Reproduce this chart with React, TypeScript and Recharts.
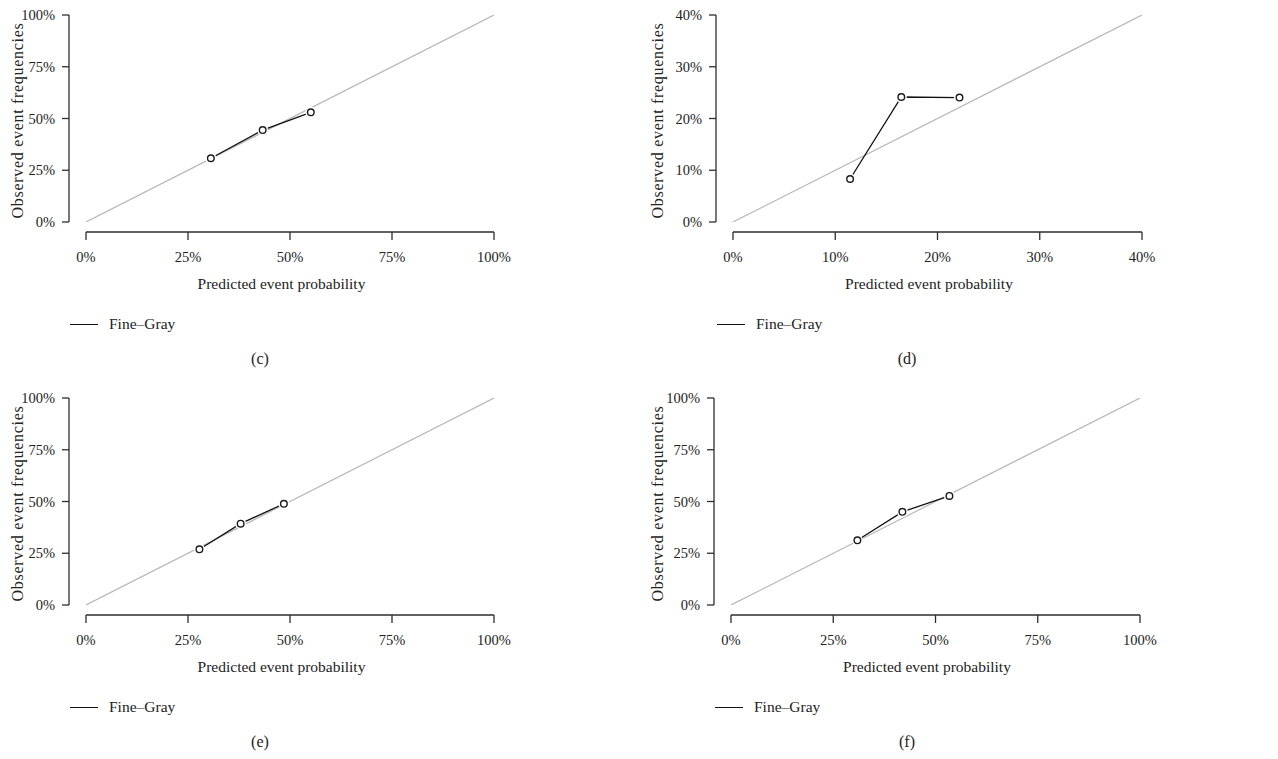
import { ComposedChart, Line, XAxis, YAxis, Legend, Label } from "recharts";

const seriesName = "Fine–Gray";
const xTitle = "Predicted event probability";
const yTitle = "Observed event frequencies";

const fullTicks = [0, 0.25, 0.5, 0.75, 1];
const smallTicks = [0, 0.1, 0.2, 0.3, 0.4];

const cPredicted = [0.306, 0.433, 0.551];
const cObserved = [0.308, 0.444, 0.53];
const dPredicted = [0.1145, 0.1646, 0.2215];
const dObserved = [0.0831, 0.2415, 0.2405];
const ePredicted = [0.278, 0.379, 0.485];
const eObserved = [0.269, 0.393, 0.489];
const fPredicted = [0.309, 0.419, 0.534];
const fObserved = [0.3125, 0.45, 0.527];

const TEXT = "#222";
const AXIS = "#2e2e2e";
const font = "'Liberation Serif', 'DejaVu Serif', serif";

const pct = (v: number) => `${Math.round(v * 100)}%`;

function GapDot(props: any) {
  const { cx, cy, index } = props;
  if (cx == null || cy == null) return null;
  return (
    <g key={`dot-${index}`}>
      <circle cx={cx} cy={cy} r={5.5} fill="#fff" />
      <circle cx={cx} cy={cy} r={3.3} fill="none" stroke="#1a1a1a" strokeWidth={1.4} />
    </g>
  );
}

type PanelProps = {
  predicted: number[];
  observed: number[];
  ticks: number[];
  caption: string;
  yAxisWidth: number;
  rightMargin: number;
  width: number;
  captionCenter: number;
};

function Panel({ predicted, observed, ticks, caption, yAxisWidth, rightMargin, width, captionCenter }: PanelProps) {
  const max = ticks[ticks.length - 1];
  const points = predicted.map((x, i) => ({ x, y: observed[i] }));
  const diagonal = [
    { x: 0, y: 0 },
    { x: max, y: max },
  ];
  const height = 345;
  const top = 15;
  const xAxisHeight = 68;
  const legendHeight = 45;
  const plotH = height - top - xAxisHeight - legendHeight;
  const padX = 17;
  const padY = 10;

  return (
    <div style={{ width, height: 383 }}>
      <ComposedChart
        width={width}
        height={height}
        margin={{ top, right: rightMargin, bottom: 0, left: 0 }}
        style={{ fontFamily: font }}
      >
        <XAxis
          type="number"
          dataKey="x"
          domain={[0, max]}
          ticks={ticks}
          tickFormatter={pct}
          padding={{ left: padX, right: 0 }}
          height={xAxisHeight}
          tickSize={8}
          tickMargin={12}
          stroke={AXIS}
          axisLine={{ stroke: AXIS, strokeWidth: 1.3, strokeDasharray: `0 ${padX} 3000` }}
          tickLine={{ stroke: AXIS, strokeWidth: 1.3 }}
          tick={{ fill: TEXT, fontSize: 14.5, fontFamily: font }}
          allowDataOverflow
        >
          <Label value={xTitle} position="insideBottom" offset={11} fill={TEXT} fontSize={15.5} fontFamily={font} />
        </XAxis>
        <YAxis
          type="number"
          dataKey="y"
          domain={[0, max]}
          ticks={ticks}
          tickFormatter={pct}
          padding={{ top: 0, bottom: padY }}
          width={yAxisWidth}
          tickSize={7}
          tickMargin={7}
          stroke={AXIS}
          axisLine={{ stroke: AXIS, strokeWidth: 1.3, strokeDasharray: `${plotH - padY} 3000` }}
          tickLine={{ stroke: AXIS, strokeWidth: 1.3 }}
          tick={{ fill: TEXT, fontSize: 14.5, fontFamily: font }}
          allowDataOverflow
        >
          <Label
            content={(p: any) => {
              const vb = p.viewBox || {};
              const cx = vb.x + 17;
              const cy = vb.y + (vb.height - padY) / 2 + 2;
              return (
                <text
                  x={cx}
                  y={cy}
                  transform={`rotate(-90, ${cx}, ${cy})`}
                  textAnchor="middle"
                  dominantBaseline="central"
                  fill={TEXT}
                  fontSize={16}
                  letterSpacing={0.7}
                  fontFamily={font}
                >
                  {yTitle}
                </text>
              );
            }}
          />
        </YAxis>
        <Line
          data={diagonal}
          dataKey="y"
          type="linear"
          stroke="#b8b8b8"
          strokeWidth={1.2}
          dot={false}
          activeDot={false}
          legendType="none"
          isAnimationActive={false}
        />
        <Line
          data={points}
          dataKey="y"
          name={seriesName}
          type="linear"
          stroke="#111"
          strokeWidth={1.3}
          dot={<GapDot />}
          activeDot={false}
          isAnimationActive={false}
        />
        <Legend
          verticalAlign="bottom"
          align="left"
          height={legendHeight}
          content={() => (
            <div
              style={{
                paddingLeft: yAxisWidth + 1,
                paddingTop: 15,
                display: "flex",
                alignItems: "center",
                fontFamily: font,
                fontSize: 15.5,
                color: TEXT,
              }}
            >
              <span style={{ display: "inline-block", width: 28, height: 0, borderTop: "1.4px solid #111", marginRight: 11 }} />
              <span>{seriesName}</span>
            </div>
          )}
        />
      </ComposedChart>
      <div
        style={{
          width: captionCenter * 2,
          textAlign: "center",
          fontFamily: font,
          fontSize: 16,
          color: TEXT,
          lineHeight: "28px",
        }}
      >
        {caption}
      </div>
    </div>
  );
}

export default function App() {
  return (
    <div style={{ position: "absolute", left: 0, top: 0, width: 1278, height: 759, background: "#fff" }}>
      <div style={{ display: "flex" }}>
        <Panel predicted={cPredicted} observed={cObserved} ticks={fullTicks} caption="(c)" yAxisWidth={69} rightMargin={146} width={640} captionCenter={260} />
        <Panel predicted={dPredicted} observed={dObserved} ticks={smallTicks} caption="(d)" yAxisWidth={76} rightMargin={136} width={638} captionCenter={267} />
      </div>
      <div style={{ display: "flex" }}>
        <Panel predicted={ePredicted} observed={eObserved} ticks={fullTicks} caption="(e)" yAxisWidth={69} rightMargin={146} width={640} captionCenter={260} />
        <Panel predicted={fPredicted} observed={fObserved} ticks={fullTicks} caption="(f)" yAxisWidth={74} rightMargin={138} width={638} captionCenter={267} />
      </div>
    </div>
  );
}
